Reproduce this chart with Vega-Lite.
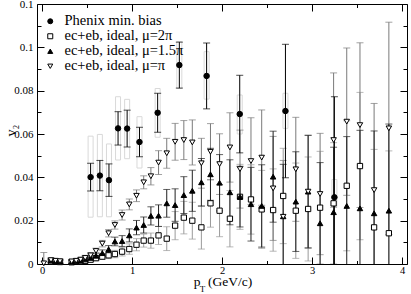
{
"$schema": "https://vega.github.io/schema/vega-lite/v6.json",
"width": 370, "height": 260,
"autosize": {"type": "none"},
"padding": {"left": 37, "top": 4, "right": 4, "bottom": 30},
"background": "white",
"config": {
 "view": {"stroke": null},
 "axis": {"grid": false, "labelFont": "Liberation Serif", "titleFont": "Liberation Serif", "titleFontWeight": "normal", "labelColor": "black", "titleColor": "black", "domainColor": "black", "tickColor": "black", "domainWidth": 1, "tickWidth": 1, "labelFlush": false, "labelOverlap": false},
 "legend": {"labelFont": "Liberation Serif", "labelColor": "black", "labelFontSize": 14.5, "symbolStrokeWidth": 1, "rowPadding": 0, "symbolSize": 25}
},
"datasets": {
 "ph": [
  {"s":"P","x":0.54,"y":0.0401,"e":0.0064,"lo":0.0216,"hi":0.059},
  {"s":"P","x":0.643,"y":0.0408,"e":0.007,"lo":0.0218,"hi":0.0598},
  {"s":"P","x":0.744,"y":0.0387,"e":0.0075,"lo":0.0218,"hi":0.0554},
  {"s":"P","x":0.845,"y":0.0626,"e":0.0077,"lo":0.048,"hi":0.0772},
  {"s":"P","x":0.946,"y":0.0625,"e":0.0085,"lo":0.0486,"hi":0.076},
  {"s":"P","x":1.083,"y":0.0563,"e":0.0068,"lo":0.0443,"hi":0.068},
  {"s":"P","x":1.285,"y":0.0698,"e":0.009,"lo":0.0585,"hi":0.081},
  {"s":"P","x":1.526,"y":0.0918,"e":0.0106,"lo":0.081,"hi":0.1026},
  {"s":"P","x":1.829,"y":0.0868,"e":0.0152,"lo":0.0761,"hi":0.098},
  {"s":"P","x":2.197,"y":0.0692,"e":0.0179,"lo":0.06,"hi":0.078},
  {"s":"P","x":2.705,"y":0.0706,"e":0.0308,"lo":0.0626,"hi":0.0788},
  {"s":"P","x":3.249,"y":0.0308,"e":0.0464,"lo":0.0265,"hi":0.039}
 ],
 "md": [
  {"s":"C","x":0.02,"y":0.0003,"e":0.005},
  {"s":"A","x":0.1,"y":0.0012,"e":0.0008},{"s":"B","x":0.1,"y":0.0016,"e":0.0008},{"s":"C","x":0.1,"y":0.0018,"e":0.0009},
  {"s":"A","x":0.15,"y":0.001,"e":0.0008},{"s":"B","x":0.15,"y":0.0013,"e":0.0008},{"s":"C","x":0.15,"y":0.0015,"e":0.0009},
  {"s":"A","x":0.2,"y":0.0009,"e":0.0008},{"s":"B","x":0.2,"y":0.0011,"e":0.0008},{"s":"C","x":0.2,"y":0.0013,"e":0.0009},
  {"s":"A","x":0.33,"y":0.0008,"e":0.0008},{"s":"B","x":0.33,"y":0.001,"e":0.0008},{"s":"C","x":0.33,"y":0.0012,"e":0.0009},
  {"s":"A","x":0.38,"y":0.001,"e":0.0008},{"s":"B","x":0.38,"y":0.0012,"e":0.0009},{"s":"C","x":0.38,"y":0.0015,"e":0.001},
  {"s":"A","x":0.43,"y":0.0012,"e":0.0009},{"s":"B","x":0.43,"y":0.0015,"e":0.001},{"s":"C","x":0.43,"y":0.002,"e":0.0011},
  {"s":"A","x":0.48,"y":0.0015,"e":0.001},{"s":"B","x":0.48,"y":0.0021,"e":0.0011},{"s":"C","x":0.48,"y":0.0028,"e":0.0012},
  {"s":"A","x":0.54,"y":0.002,"e":0.001},{"s":"B","x":0.54,"y":0.0028,"e":0.0012},{"s":"C","x":0.54,"y":0.004,"e":0.0012},
  {"s":"A","x":0.6,"y":0.0027,"e":0.0012},{"s":"B","x":0.6,"y":0.0038,"e":0.0013},{"s":"C","x":0.6,"y":0.006,"e":0.0013},
  {"s":"A","x":0.67,"y":0.0034,"e":0.0013},{"s":"B","x":0.67,"y":0.005,"e":0.0015},{"s":"C","x":0.67,"y":0.0094,"e":0.0015},
  {"s":"A","x":0.74,"y":0.004,"e":0.0015},{"s":"B","x":0.74,"y":0.0068,"e":0.0017},{"s":"C","x":0.74,"y":0.0142,"e":0.0017},
  {"s":"A","x":0.81,"y":0.0046,"e":0.0017},{"s":"B","x":0.81,"y":0.0104,"e":0.002},{"s":"C","x":0.81,"y":0.018,"e":0.0019},
  {"s":"A","x":0.89,"y":0.0057,"e":0.002},{"s":"B","x":0.89,"y":0.0106,"e":0.0025},{"s":"C","x":0.89,"y":0.0226,"e":0.0023},
  {"s":"A","x":0.97,"y":0.0069,"e":0.0024},{"s":"B","x":0.97,"y":0.0132,"e":0.003},{"s":"C","x":0.97,"y":0.0275,"e":0.0025},
  {"s":"A","x":1.05,"y":0.0089,"e":0.0028},{"s":"B","x":1.05,"y":0.0168,"e":0.0033},{"s":"C","x":1.05,"y":0.0315,"e":0.0027},
  {"s":"A","x":1.13,"y":0.0108,"e":0.003},{"s":"B","x":1.13,"y":0.018,"e":0.0037},{"s":"C","x":1.13,"y":0.0377,"e":0.003},
  {"s":"A","x":1.21,"y":0.0108,"e":0.0035},{"s":"B","x":1.21,"y":0.0222,"e":0.0042},{"s":"C","x":1.21,"y":0.0405,"e":0.004},
  {"s":"A","x":1.295,"y":0.0132,"e":0.0042},{"s":"B","x":1.295,"y":0.0223,"e":0.005},{"s":"C","x":1.295,"y":0.0468,"e":0.0055},
  {"s":"A","x":1.386,"y":0.0117,"e":0.0055},{"s":"B","x":1.386,"y":0.028,"e":0.0064},{"s":"C","x":1.386,"y":0.0511,"e":0.0069},
  {"s":"A","x":1.479,"y":0.0177,"e":0.0065},{"s":"B","x":1.479,"y":0.0272,"e":0.0075},{"s":"C","x":1.479,"y":0.0564,"e":0.0085},
  {"s":"A","x":1.576,"y":0.0214,"e":0.0075},{"s":"B","x":1.576,"y":0.0318,"e":0.0085},{"s":"C","x":1.576,"y":0.0572,"e":0.009},
  {"s":"A","x":1.67,"y":0.02,"e":0.0085},{"s":"B","x":1.67,"y":0.0338,"e":0.0095},{"s":"C","x":1.67,"y":0.0561,"e":0.0104},
  {"s":"A","x":1.771,"y":0.0169,"e":0.01},{"s":"B","x":1.771,"y":0.0377,"e":0.011},{"s":"C","x":1.771,"y":0.0465,"e":0.0115},
  {"s":"A","x":1.872,"y":0.028,"e":0.011},{"s":"B","x":1.872,"y":0.0414,"e":0.012},{"s":"C","x":1.872,"y":0.0518,"e":0.013},
  {"s":"A","x":1.973,"y":0.0246,"e":0.012},{"s":"B","x":1.973,"y":0.0375,"e":0.013},{"s":"C","x":1.973,"y":0.0461,"e":0.014},
  {"s":"A","x":2.088,"y":0.0209,"e":0.013},{"s":"B","x":2.088,"y":0.0331,"e":0.015},{"s":"C","x":2.088,"y":0.0538,"e":0.016},
  {"s":"A","x":2.2,"y":0.031,"e":0.015},{"s":"B","x":2.2,"y":0.0311,"e":0.014},{"s":"C","x":2.2,"y":0.0438,"e":0.018},
  {"s":"A","x":2.322,"y":0.0298,"e":0.016},{"s":"B","x":2.322,"y":0.0276,"e":0.017},{"s":"C","x":2.322,"y":0.0475,"e":0.02},
  {"s":"A","x":2.441,"y":0.0252,"e":0.018},{"s":"B","x":2.441,"y":0.0268,"e":0.019},{"s":"C","x":2.441,"y":0.0491,"e":0.022},
  {"s":"A","x":2.568,"y":0.0249,"e":0.019},{"s":"B","x":2.568,"y":0.0403,"e":0.021},{"s":"C","x":2.568,"y":0.0349,"e":0.024},
  {"s":"A","x":2.68,"y":0.0314,"e":0.022},{"s":"B","x":2.68,"y":0.022,"e":0.024},{"s":"C","x":2.68,"y":0.0218,"e":0.026},
  {"s":"A","x":2.82,"y":0.0246,"e":0.022},{"s":"B","x":2.82,"y":0.0288,"e":0.023},{"s":"C","x":2.82,"y":0.0437,"e":0.024},
  {"s":"A","x":2.957,"y":0.0254,"e":0.024},{"s":"B","x":2.957,"y":0.0334,"e":0.026},{"s":"C","x":2.957,"y":0.0334,"e":0.026},
  {"s":"A","x":3.09,"y":0.026,"e":0.026},{"s":"B","x":3.09,"y":0.0188,"e":0.028},{"s":"C","x":3.09,"y":0.0323,"e":0.028},
  {"s":"A","x":3.24,"y":0.028,"e":0.028},{"s":"B","x":3.24,"y":0.0239,"e":0.03},{"s":"C","x":3.24,"y":0.0572,"e":0.031},
  {"s":"A","x":3.386,"y":0.0361,"e":0.03},{"s":"B","x":3.386,"y":0.0268,"e":0.032},{"s":"C","x":3.386,"y":0.0657,"e":0.034},
  {"s":"A","x":3.533,"y":0.0452,"e":0.034},{"s":"B","x":3.533,"y":0.0257,"e":0.036},{"s":"C","x":3.533,"y":0.0641,"e":0.038},
  {"s":"A","x":3.69,"y":0.0169,"e":0.036},{"s":"B","x":3.69,"y":0.0234,"e":0.038},{"s":"C","x":3.69,"y":0.0341,"e":0.04},
  {"s":"A","x":3.854,"y":0.0142,"e":0.038},{"s":"B","x":3.854,"y":0.0246,"e":0.04},{"s":"C","x":3.854,"y":0.0626,"e":0.049}
 ]
},
"resolve": {"axis": {"x": "independent", "y": "independent"}},
"layer": [
 {
  "data": {"name": "ph"},
  "mark": {"type": "bar", "width": 5, "filled": false, "color": "#d9d9d9", "strokeWidth": 1, "clip": true},
  "encoding": {
   "x": {"field": "x", "type": "quantitative", "scale": {"domain": [0, 4], "nice": false},
         "axis": {"orient": "bottom", "ticks": false, "labels": false, "domain": false, "title": "T", "titleFontSize": 9, "titleX": 162.3, "titleY": 27.5, "titleAlign": "left", "titleBaseline": "alphabetic"}},
   "y": {"field": "lo", "type": "quantitative", "scale": {"domain": [0, 0.12], "nice": false}, "axis": null},
   "y2": {"field": "hi"}
  }
 },
 {
  "data": {"name": "md"},
  "transform": [{"filter": "datum.s == 'A'"}],
  "mark": {"type": "errorbar", "ticks": {"size": 7}, "color": "#9a9a9a", "clip": true},
  "encoding": {
   "x": {"field": "x", "type": "quantitative", "scale": {"domain": [0, 4], "nice": false},
         "axis": {"orient": "bottom", "ticks": false, "labels": false, "domain": false, "title": "(GeV/c)", "titleFontSize": 13.5, "titleX": 170.5, "titleY": 21.5, "titleAlign": "left", "titleBaseline": "alphabetic"}},
   "y": {"field": "y", "type": "quantitative", "scale": {"domain": [0, 0.12], "nice": false}, "axis": null},
   "yError": {"field": "e"}
  }
 },
 {
  "data": {"name": "md"},
  "transform": [{"filter": "datum.s == 'C'"}],
  "mark": {"type": "errorbar", "ticks": {"size": 7}, "color": "#7a7a7a", "clip": true},
  "encoding": {
   "x": {"field": "x", "type": "quantitative", "scale": {"domain": [0, 4], "nice": false}, "axis": null},
   "y": {"field": "y", "type": "quantitative", "scale": {"domain": [0, 0.12], "nice": false}, "axis": null},
   "yError": {"field": "e"}
  }
 },
 {
  "data": {"name": "md"},
  "transform": [{"filter": "datum.s == 'B'"}],
  "mark": {"type": "errorbar", "ticks": {"size": 7}, "color": "#202020", "clip": true},
  "encoding": {
   "x": {"field": "x", "type": "quantitative", "scale": {"domain": [0, 4], "nice": false}, "axis": null},
   "y": {"field": "y", "type": "quantitative", "scale": {"domain": [0, 0.12], "nice": false}, "axis": null},
   "yError": {"field": "e"}
  }
 },
 {
  "data": {"name": "ph"},
  "mark": {"type": "errorbar", "ticks": {"size": 7}, "color": "black", "clip": true},
  "encoding": {
   "x": {"field": "x", "type": "quantitative", "scale": {"domain": [0, 4], "nice": false}, "axis": null},
   "y": {"field": "y", "type": "quantitative", "scale": {"domain": [0, 0.12], "nice": false}, "axis": null},
   "yError": {"field": "e"}
  }
 },
 {
  "data": {"name": "ph"},
  "mark": {"type": "point", "strokeWidth": 1, "size": 30, "opacity": 1},
  "encoding": {
   "x": {"field": "x", "type": "quantitative", "scale": {"domain": [0, 4], "nice": false},
         "axis": {"orient": "bottom", "values": [0, 1, 2, 3, 4], "format": "d", "tickSize": -7, "labelPadding": 8, "labelFontSize": 10.5, "domain": true, "title": "p", "titleFontSize": 13.5, "titleX": 156.3, "titleY": 21.5, "titleAlign": "left", "titleBaseline": "alphabetic"}},
   "y": {"field": "y", "type": "quantitative", "scale": {"domain": [0, 0.12], "nice": false},
         "axis": {"orient": "left", "values": [0, 0.02, 0.04, 0.06, 0.08, 0.1, 0.12], "format": "~g", "tickSize": -7, "labelPadding": 11, "labelFontSize": 11, "domain": true, "title": "v₂", "titleFontSize": 14, "titleAngle": 270, "titleX": -26, "titleY": 126, "titleAlign": "center", "titleBaseline": "middle"}},
   "shape": {"datum": "P", "type": "nominal", "scale": {"domain": ["P", "A", "B", "C"], "range": ["circle", "square", "triangle-up", "triangle-down"]},
             "legend": {"title": null, "orient": "none", "legendX": 6, "legendY": 10, "labelOffset": 7, "labelExpr": "datum.value == 'P' ? 'Phenix min. bias' : datum.value == 'A' ? 'ec+eb, ideal, μ=2π' : datum.value == 'B' ? 'ec+eb, ideal, μ=1.5π' : 'ec+eb, ideal, μ=π'"}},
   "fill": {"datum": "P", "type": "nominal", "scale": {"domain": ["P", "A", "B", "C"], "range": ["black", "white", "black", "white"]},
             "legend": {"title": null, "orient": "none", "legendX": 6, "legendY": 10, "labelOffset": 7, "labelExpr": "datum.value == 'P' ? 'Phenix min. bias' : datum.value == 'A' ? 'ec+eb, ideal, μ=2π' : datum.value == 'B' ? 'ec+eb, ideal, μ=1.5π' : 'ec+eb, ideal, μ=π'"}},
   "stroke": {"datum": "P", "type": "nominal", "scale": {"domain": ["P", "A", "B", "C"], "range": ["black", "black", "black", "black"]},
             "legend": {"title": null, "orient": "none", "legendX": 6, "legendY": 10, "labelOffset": 7, "labelExpr": "datum.value == 'P' ? 'Phenix min. bias' : datum.value == 'A' ? 'ec+eb, ideal, μ=2π' : datum.value == 'B' ? 'ec+eb, ideal, μ=1.5π' : 'ec+eb, ideal, μ=π'"}}
  }
 },
 {
  "data": {"name": "md"},
  "transform": [{"filter": "datum.s == 'A'"}],
  "mark": {"type": "point", "strokeWidth": 1, "size": 28, "opacity": 1},
  "encoding": {
   "x": {"field": "x", "type": "quantitative", "scale": {"domain": [0, 4], "nice": false},
         "axis": {"orient": "bottom", "values": [0.5, 1.5, 2.5, 3.5], "tickSize": -3.5, "labels": false, "domain": false, "title": null}},
   "y": {"field": "y", "type": "quantitative", "scale": {"domain": [0, 0.12], "nice": false},
         "axis": {"orient": "left", "values": [0.01, 0.03, 0.05, 0.07, 0.09, 0.11], "tickSize": -4, "labels": false, "domain": false, "title": null}},
   "shape": {"datum": "A", "type": "nominal"},
   "fill": {"datum": "A", "type": "nominal"},
   "stroke": {"datum": "A", "type": "nominal"}
  }
 },
 {
  "data": {"name": "md"},
  "transform": [{"filter": "datum.s == 'B'"}],
  "mark": {"type": "point", "strokeWidth": 1, "size": 30, "opacity": 1},
  "encoding": {
   "x": {"field": "x", "type": "quantitative", "scale": {"domain": [0, 4], "nice": false},
         "axis": {"orient": "top", "values": [0, 1, 2, 3, 4], "tickSize": -7, "labels": false, "domain": true, "title": null}},
   "y": {"field": "y", "type": "quantitative", "scale": {"domain": [0, 0.12], "nice": false},
         "axis": {"orient": "right", "values": [0, 0.02, 0.04, 0.06, 0.08, 0.1, 0.12], "tickSize": -7, "labels": false, "domain": true, "title": null}},
   "shape": {"datum": "B", "type": "nominal"},
   "fill": {"datum": "B", "type": "nominal"},
   "stroke": {"datum": "B", "type": "nominal"}
  }
 },
 {
  "data": {"name": "md"},
  "transform": [{"filter": "datum.s == 'C'"}],
  "mark": {"type": "point", "strokeWidth": 1, "size": 30, "opacity": 1},
  "encoding": {
   "x": {"field": "x", "type": "quantitative", "scale": {"domain": [0, 4], "nice": false},
         "axis": {"orient": "top", "values": [0.5, 1.5, 2.5, 3.5], "tickSize": -3.5, "labels": false, "domain": false, "title": null}},
   "y": {"field": "y", "type": "quantitative", "scale": {"domain": [0, 0.12], "nice": false},
         "axis": {"orient": "right", "values": [0.01, 0.03, 0.05, 0.07, 0.09, 0.11], "tickSize": -4, "labels": false, "domain": false, "title": null}},
   "shape": {"datum": "C", "type": "nominal"},
   "fill": {"datum": "C", "type": "nominal"},
   "stroke": {"datum": "C", "type": "nominal"}
  }
 }
]
}
